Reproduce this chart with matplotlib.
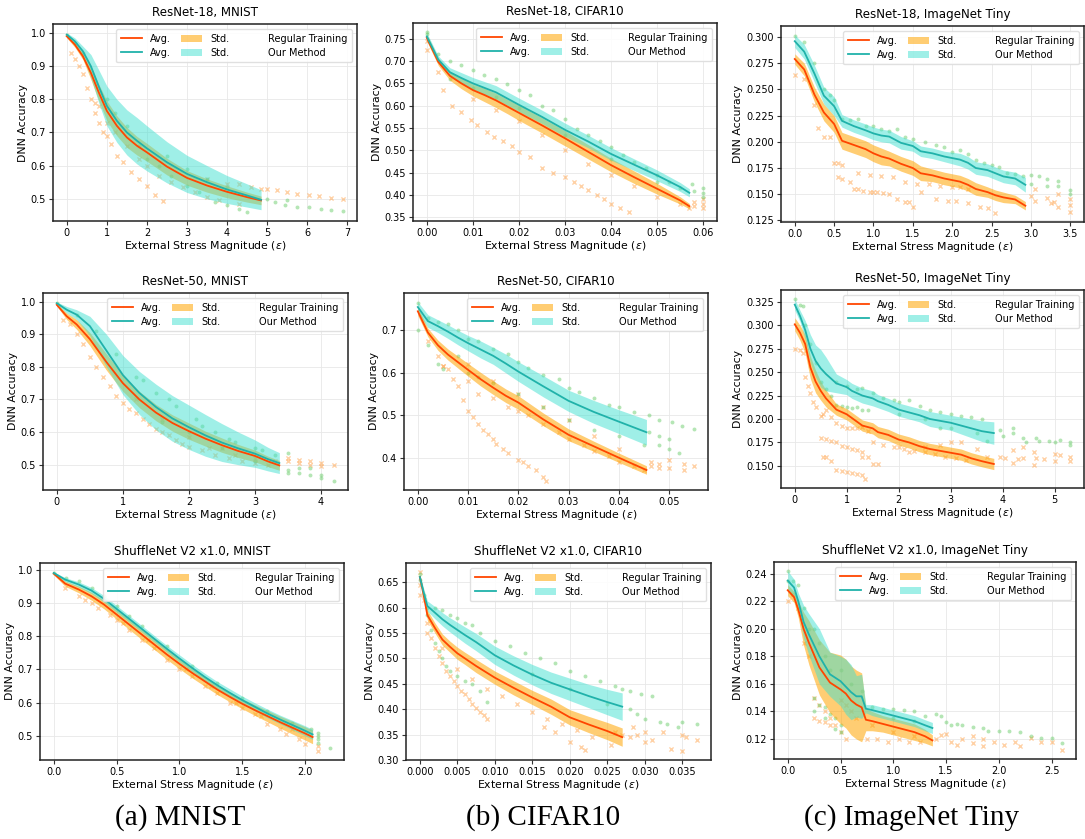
import matplotlib
matplotlib.use("Agg")
import matplotlib.pyplot as plt
import matplotlib.patches as patches
from matplotlib.lines import Line2D
import numpy as np

# ---------------- data ----------------
# ResNet-18, MNIST
r18_mnist_x = [0, 0.2, 0.4, 0.6, 0.8, 1.0, 1.25, 1.5, 1.75, 2.0, 2.5, 3.0, 3.5, 4.0, 4.5, 4.85]
r18_mnist_reg = [0.99, 0.965, 0.93, 0.88, 0.82, 0.765, 0.72, 0.685, 0.66, 0.64, 0.597, 0.563, 0.54, 0.521, 0.505, 0.495]
r18_mnist_reg_std = [0.005, 0.008, 0.01, 0.02, 0.025, 0.03, 0.03, 0.03, 0.028, 0.027, 0.025, 0.022, 0.02, 0.018, 0.015, 0.013]
r18_mnist_our = [0.995, 0.975, 0.945, 0.9, 0.838, 0.78, 0.735, 0.7, 0.675, 0.652, 0.61, 0.575, 0.55, 0.528, 0.51, 0.497]
r18_mnist_our_std = [0.005, 0.01, 0.015, 0.035, 0.05, 0.06, 0.065, 0.068, 0.07, 0.068, 0.062, 0.056, 0.05, 0.042, 0.035, 0.03]
r18_mnist_reg_pts = [(0.1, 0.94), (0.2, 0.92), (0.3, 0.9), (0.4, 0.875), (0.5, 0.835), (0.6, 0.8), (0.7, 0.76),
                     (0.8, 0.73), (0.9, 0.7), (1.0, 0.69), (1.1, 0.665), (1.25, 0.63), (1.4, 0.61), (1.6, 0.58),
                     (1.8, 0.56), (2.0, 0.54), (2.2, 0.51), (2.4, 0.493), (0.7, 0.79), (0.8, 0.78), (1.0, 0.73),
                     (1.2, 0.7), (1.5, 0.66), (1.8, 0.62), (2.0, 0.6), (2.3, 0.57), (2.6, 0.55), (2.9, 0.535),
                     (3.2, 0.52), (3.5, 0.505), (3.8, 0.495), (4.3, 0.485), (3.5, 0.56), (4.0, 0.545), (4.3, 0.545),
                     (4.6, 0.535), (4.85, 0.53), (5.0, 0.53), (5.25, 0.525), (5.5, 0.52), (5.75, 0.515),
                     (6.05, 0.51), (6.3, 0.508), (6.6, 0.503), (6.9, 0.5)]
r18_mnist_our_pts = [(0.0, 0.995), (0.2, 0.97), (0.4, 0.94), (1.0, 0.8), (1.2, 0.76), (1.5, 0.72), (1.8, 0.66),
                     (2.0, 0.62), (2.3, 0.6), (2.6, 0.57), (3.0, 0.54), (3.3, 0.52), (3.7, 0.49), (4.0, 0.48),
                     (4.3, 0.47), (4.5, 0.46), (2.5, 0.63), (3.0, 0.59), (3.5, 0.56), (4.0, 0.535), (5.0, 0.5),
                     (5.2, 0.49), (5.45, 0.48), (5.5, 0.495), (5.75, 0.475), (6.05, 0.475), (6.35, 0.47),
                     (6.6, 0.467), (6.9, 0.463)]

# ResNet-18, CIFAR10
r18_cifar_x = [0, 0.0025, 0.005, 0.0075, 0.01, 0.0125, 0.015, 0.0175, 0.02, 0.025, 0.03, 0.035, 0.04, 0.045, 0.05, 0.055, 0.057]
r18_cifar_reg = [0.752, 0.698, 0.667, 0.65, 0.635, 0.624, 0.612, 0.598, 0.584, 0.556, 0.527, 0.497, 0.467, 0.44, 0.414, 0.388, 0.375]
r18_cifar_reg_std = [0.008, 0.008, 0.01, 0.012, 0.013, 0.015, 0.016, 0.016, 0.017, 0.017, 0.017, 0.016, 0.015, 0.014, 0.012, 0.008, 0.006]
r18_cifar_our = [0.755, 0.703, 0.675, 0.662, 0.65, 0.64, 0.63, 0.616, 0.602, 0.575, 0.546, 0.52, 0.492, 0.468, 0.444, 0.418, 0.405]
r18_cifar_our_std = [0.008, 0.008, 0.01, 0.012, 0.013, 0.014, 0.015, 0.015, 0.015, 0.015, 0.015, 0.014, 0.014, 0.013, 0.012, 0.01, 0.009]
r18_cifar_reg_pts = [(0.0, 0.725), (0.0, 0.745), (0.0025, 0.675), (0.0035, 0.635), (0.0055, 0.6), (0.0075, 0.585),
                     (0.0095, 0.567), (0.011, 0.556), (0.013, 0.54), (0.0145, 0.53), (0.0165, 0.52), (0.0185, 0.51),
                     (0.02, 0.497), (0.0225, 0.485), (0.025, 0.46), (0.0275, 0.45), (0.03, 0.44), (0.032, 0.43),
                     (0.0335, 0.42), (0.035, 0.412), (0.037, 0.4), (0.0385, 0.39), (0.04, 0.38), (0.042, 0.372),
                     (0.044, 0.362), (0.01, 0.615), (0.015, 0.59), (0.02, 0.565), (0.025, 0.535), (0.03, 0.5),
                     (0.035, 0.47), (0.04, 0.445), (0.045, 0.42), (0.05, 0.395), (0.055, 0.38), (0.057, 0.37),
                     (0.058, 0.375), (0.058, 0.385), (0.06, 0.372), (0.06, 0.38), (0.06, 0.39)]
r18_cifar_our_pts = [(0.0, 0.765), (0.0, 0.76), (0.0025, 0.715), (0.005, 0.7), (0.0075, 0.69), (0.01, 0.68),
                     (0.0125, 0.668), (0.015, 0.66), (0.0175, 0.648), (0.02, 0.635), (0.0225, 0.623), (0.025, 0.6),
                     (0.0275, 0.59), (0.03, 0.57), (0.0325, 0.548), (0.035, 0.535), (0.0375, 0.52), (0.04, 0.508),
                     (0.0425, 0.49), (0.045, 0.475), (0.0475, 0.46), (0.05, 0.445), (0.0525, 0.43), (0.055, 0.415),
                     (0.0575, 0.425), (0.058, 0.41), (0.06, 0.415), (0.06, 0.405), (0.06, 0.395), (0.005, 0.66),
                     (0.01, 0.64), (0.015, 0.62), (0.02, 0.595), (0.03, 0.535), (0.04, 0.48), (0.05, 0.43)]

# ResNet-18, ImageNet Tiny
r18_tiny_x = [0, 0.12, 0.25, 0.37, 0.5, 0.6, 0.75, 0.9, 1.0, 1.1, 1.2, 1.35, 1.5, 1.6, 1.75, 1.9, 2.1, 2.2, 2.3, 2.45, 2.55, 2.65, 2.8, 2.93]
r18_tiny_reg = [0.279, 0.269, 0.245, 0.228, 0.217, 0.201, 0.197, 0.193, 0.189, 0.186, 0.184, 0.179, 0.175, 0.17,
                0.168, 0.165, 0.162, 0.159, 0.155, 0.152, 0.149, 0.147, 0.145, 0.139]
r18_tiny_reg_std = [0.005, 0.006, 0.007, 0.008, 0.008, 0.008, 0.008, 0.008, 0.008, 0.008, 0.007, 0.007, 0.007,
                    0.007, 0.006, 0.006, 0.006, 0.006, 0.006, 0.005, 0.005, 0.005, 0.004, 0.004]
r18_tiny_our = [0.296, 0.286, 0.265, 0.244, 0.234, 0.22, 0.215, 0.211, 0.208, 0.206, 0.205, 0.199, 0.196, 0.191,
                0.189, 0.186, 0.183, 0.18, 0.175, 0.173, 0.17, 0.167, 0.165, 0.159]
r18_tiny_our_std = [0.006, 0.007, 0.008, 0.008, 0.009, 0.006, 0.006, 0.006, 0.006, 0.006, 0.006, 0.006, 0.005,
                    0.005, 0.005, 0.005, 0.006, 0.006, 0.006, 0.006, 0.006, 0.006, 0.006, 0.007]
r18_tiny_reg_pts = [(0, 0.264), (0.12, 0.26), (0.25, 0.235), (0.3, 0.213), (0.37, 0.205), (0.45, 0.205), (0.5, 0.18),
                    (0.55, 0.18), (0.6, 0.178), (0.55, 0.166), (0.6, 0.165), (0.7, 0.162), (0.75, 0.155), (0.8, 0.155),
                    (0.87, 0.153), (0.95, 0.152), (1.0, 0.152), (1.05, 0.152), (1.12, 0.151), (1.2, 0.15), (1.3, 0.145),
                    (1.4, 0.143), (1.45, 0.143), (1.5, 0.138), (0.8, 0.17), (0.95, 0.168), (1.1, 0.167), (1.25, 0.166),
                    (1.4, 0.162), (1.55, 0.16), (1.7, 0.16), (1.85, 0.158), (2.0, 0.157), (2.1, 0.157), (2.2, 0.155),
                    (1.6, 0.152), (1.8, 0.145), (1.95, 0.144), (2.05, 0.144), (2.2, 0.142), (2.35, 0.138),
                    (2.45, 0.137), (2.55, 0.132), (3.0, 0.148), (3.05, 0.155), (3.05, 0.144), (3.2, 0.146),
                    (3.25, 0.142), (3.35, 0.15), (3.35, 0.138), (3.5, 0.145), (3.5, 0.14), (3.5, 0.133), (3.3, 0.143)]
r18_tiny_our_pts = [(0, 0.301), (0.12, 0.295), (0.25, 0.275), (0.37, 0.25), (0.45, 0.245), (0.5, 0.24), (0.6, 0.222),
                    (0.7, 0.221), (0.8, 0.222), (0.9, 0.215), (1.0, 0.215), (1.1, 0.212), (1.2, 0.21), (1.3, 0.212),
                    (1.4, 0.205), (1.5, 0.203), (1.65, 0.2), (1.8, 0.197), (1.9, 0.195), (2.0, 0.19), (2.1, 0.192),
                    (2.2, 0.188), (2.3, 0.183), (2.4, 0.18), (2.5, 0.178), (2.6, 0.176), (2.7, 0.17), (2.8, 0.169),
                    (2.9, 0.167), (3.0, 0.168), (3.1, 0.167), (3.2, 0.165), (3.35, 0.163), (3.35, 0.158),
                    (3.5, 0.154), (3.5, 0.15), (3.0, 0.16), (3.2, 0.158)]

# ResNet-50, MNIST
r50_mnist_x = [0, 0.15, 0.3, 0.5, 0.75, 1.0, 1.25, 1.5, 1.75, 2.0, 2.25, 2.5, 2.75, 3.0, 3.2, 3.37]
r50_mnist_reg = [0.99, 0.955, 0.93, 0.885, 0.815, 0.75, 0.7, 0.66, 0.628, 0.603, 0.58, 0.56, 0.542, 0.527, 0.51, 0.498]
r50_mnist_reg_std = [0.004, 0.01, 0.015, 0.02, 0.025, 0.025, 0.025, 0.025, 0.025, 0.025, 0.023, 0.022, 0.02, 0.018, 0.016, 0.015]
r50_mnist_our = [0.995, 0.975, 0.96, 0.925, 0.85, 0.775, 0.72, 0.677, 0.642, 0.615, 0.59, 0.568, 0.55, 0.534, 0.517, 0.505]
r50_mnist_our_std = [0.004, 0.01, 0.015, 0.03, 0.05, 0.06, 0.066, 0.07, 0.07, 0.068, 0.064, 0.058, 0.05, 0.042, 0.036, 0.032]
r50_mnist_reg_pts = [(0.1, 0.945), (0.2, 0.93), (0.3, 0.9), (0.4, 0.87), (0.5, 0.83), (0.6, 0.8), (0.7, 0.77),
                     (0.8, 0.74), (0.9, 0.71), (1.0, 0.69), (1.1, 0.67), (1.2, 0.66), (1.3, 0.64), (1.4, 0.625),
                     (1.5, 0.61), (1.6, 0.6), (1.7, 0.59), (1.8, 0.575), (1.9, 0.565), (2.0, 0.555), (2.2, 0.545),
                     (2.4, 0.53), (2.6, 0.52), (2.8, 0.51), (3.0, 0.505), (3.2, 0.5), (2.3, 0.55), (2.7, 0.53),
                     (1.2, 0.7), (1.6, 0.64), (2.0, 0.585), (2.5, 0.55), (3.0, 0.52), (3.3, 0.51), (3.5, 0.52),
                     (3.5, 0.51), (3.67, 0.515), (3.67, 0.505), (3.84, 0.51), (3.84, 0.5), (4.0, 0.505),
                     (4.0, 0.495), (4.2, 0.5)]
r50_mnist_our_pts = [(0, 0.995), (0.3, 0.96), (0.6, 0.91), (0.9, 0.84), (1.2, 0.77), (1.5, 0.72), (1.8, 0.68),
                     (2.1, 0.64), (2.4, 0.6), (2.7, 0.57), (3.0, 0.55), (3.3, 0.53), (1.3, 0.76), (1.7, 0.7),
                     (2.2, 0.62), (2.6, 0.58), (3.1, 0.545), (1.6, 0.63), (2.0, 0.6), (2.5, 0.55), (3.0, 0.51),
                     (3.5, 0.535), (3.5, 0.485), (3.5, 0.475), (3.67, 0.49), (3.67, 0.475), (3.84, 0.49),
                     (3.84, 0.47), (4.0, 0.47), (4.0, 0.46), (4.2, 0.45)]

# ResNet-50, CIFAR10
r50_cifar_x = [0, 0.002, 0.004, 0.006, 0.008, 0.01, 0.0125, 0.015, 0.0175, 0.02, 0.025, 0.03, 0.035, 0.04, 0.0455]
r50_cifar_reg = [0.745, 0.695, 0.665, 0.643, 0.625, 0.607, 0.585, 0.565, 0.546, 0.53, 0.49, 0.454, 0.427, 0.4, 0.371]
r50_cifar_reg_std = [0.01, 0.01, 0.012, 0.013, 0.014, 0.015, 0.016, 0.016, 0.016, 0.016, 0.015, 0.014, 0.012, 0.011, 0.01]
r50_cifar_our = [0.755, 0.722, 0.71, 0.697, 0.683, 0.67, 0.655, 0.64, 0.622, 0.603, 0.568, 0.534, 0.508, 0.485, 0.46]
r50_cifar_our_std = [0.012, 0.015, 0.015, 0.016, 0.017, 0.018, 0.02, 0.02, 0.022, 0.023, 0.025, 0.025, 0.027, 0.028, 0.03]
r50_cifar_reg_pts = [(0.002, 0.675), (0.004, 0.64), (0.005, 0.617), (0.006, 0.61), (0.007, 0.585), (0.008, 0.57),
                     (0.009, 0.535), (0.01, 0.51), (0.011, 0.495), (0.012, 0.48), (0.013, 0.465), (0.014, 0.455),
                     (0.015, 0.445), (0.0155, 0.432), (0.017, 0.42), (0.018, 0.41), (0.02, 0.395), (0.021, 0.39),
                     (0.022, 0.38), (0.0235, 0.37), (0.025, 0.355), (0.0255, 0.345), (0.005, 0.615), (0.01, 0.58),
                     (0.012, 0.55), (0.015, 0.54), (0.018, 0.52), (0.02, 0.51), (0.022, 0.5), (0.025, 0.48),
                     (0.028, 0.46), (0.03, 0.445), (0.033, 0.43), (0.035, 0.415), (0.038, 0.405), (0.04, 0.39),
                     (0.043, 0.38), (0.045, 0.37), (0.01, 0.62), (0.015, 0.58), (0.02, 0.55), (0.025, 0.52),
                     (0.03, 0.49), (0.035, 0.45), (0.04, 0.42), (0.0465, 0.39), (0.0465, 0.38), (0.048, 0.385),
                     (0.048, 0.375), (0.05, 0.395), (0.05, 0.375), (0.053, 0.385), (0.053, 0.37), (0.055, 0.38)]
r50_cifar_our_pts = [(0, 0.765), (0, 0.7), (0.002, 0.73), (0.002, 0.665), (0.004, 0.72), (0.004, 0.62), (0.005, 0.61),
                     (0.006, 0.715), (0.008, 0.7), (0.01, 0.68), (0.012, 0.675), (0.015, 0.655), (0.018, 0.645),
                     (0.02, 0.625), (0.022, 0.612), (0.025, 0.595), (0.028, 0.585), (0.03, 0.565), (0.032, 0.555),
                     (0.035, 0.54), (0.038, 0.525), (0.04, 0.52), (0.043, 0.508), (0.008, 0.64), (0.01, 0.6),
                     (0.012, 0.59), (0.015, 0.575), (0.02, 0.55), (0.025, 0.52), (0.03, 0.49), (0.035, 0.465),
                     (0.04, 0.45), (0.045, 0.43), (0.046, 0.5), (0.046, 0.46), (0.048, 0.49), (0.048, 0.45),
                     (0.048, 0.43), (0.0505, 0.485), (0.05, 0.445), (0.05, 0.42), (0.0525, 0.475), (0.052, 0.41),
                     (0.055, 0.468)]

# ResNet-50, ImageNet Tiny
r50_tiny_x = [0, 0.1, 0.2, 0.3, 0.4, 0.5, 0.6, 0.8, 1.0, 1.1, 1.3, 1.5, 1.6, 1.8, 2.0, 2.2, 2.4, 2.6, 2.8, 3.0, 3.2, 3.4, 3.6, 3.83]
r50_tiny_reg = [0.301, 0.292, 0.28, 0.255, 0.24, 0.23, 0.222, 0.21, 0.205, 0.201, 0.193, 0.19, 0.186, 0.183, 0.178,
                0.175, 0.171, 0.168, 0.166, 0.164, 0.162, 0.158, 0.155, 0.152]
r50_tiny_reg_std = [0.007, 0.008, 0.01, 0.012, 0.012, 0.01, 0.009, 0.006, 0.006, 0.006, 0.006, 0.006, 0.006, 0.006,
                    0.006, 0.006, 0.006, 0.006, 0.006, 0.006, 0.006, 0.006, 0.006, 0.006]
r50_tiny_our = [0.322, 0.31, 0.295, 0.275, 0.262, 0.254, 0.248, 0.238, 0.234, 0.23, 0.225, 0.222, 0.219, 0.215, 0.21,
                0.207, 0.204, 0.2, 0.198, 0.196, 0.193, 0.19, 0.187, 0.185]
r50_tiny_our_std = [0.006, 0.006, 0.01, 0.015, 0.017, 0.02, 0.018, 0.01, 0.008, 0.008, 0.008, 0.008, 0.007, 0.007,
                    0.007, 0.007, 0.007, 0.008, 0.008, 0.008, 0.009, 0.01, 0.011, 0.012]
r50_tiny_reg_pts = [(0, 0.275), (0.1, 0.274), (0.15, 0.27), (0.2, 0.245), (0.25, 0.235), (0.3, 0.228), (0.35, 0.218),
                    (0.4, 0.213), (0.5, 0.203), (0.55, 0.205), (0.6, 0.21), (0.7, 0.202), (0.8, 0.196), (0.9, 0.193),
                    (1.0, 0.19), (1.1, 0.19), (1.2, 0.19), (1.3, 0.192), (1.4, 0.187), (0.5, 0.18), (0.6, 0.179),
                    (0.7, 0.177), (0.8, 0.176), (0.9, 0.171), (1.0, 0.17), (1.1, 0.168), (1.2, 0.167), (1.3, 0.165),
                    (0.55, 0.16), (0.6, 0.159), (0.7, 0.155), (0.8, 0.146), (0.9, 0.145), (1.0, 0.143), (1.1, 0.142),
                    (1.2, 0.141), (1.3, 0.14), (1.35, 0.136), (1.3, 0.16), (1.4, 0.16), (1.5, 0.152), (1.6, 0.152),
                    (1.5, 0.175), (1.7, 0.172), (1.9, 0.17), (2.1, 0.168), (2.3, 0.166), (2.5, 0.165), (2.7, 0.163),
                    (2.9, 0.16), (3.1, 0.158), (3.3, 0.156), (2.0, 0.17), (2.2, 0.165), (2.5, 0.17), (2.8, 0.172),
                    (3.0, 0.175), (3.2, 0.176), (3.5, 0.168), (3.7, 0.16), (3.95, 0.16), (4.05, 0.158), (4.2, 0.153),
                    (4.2, 0.167), (4.3, 0.157), (4.4, 0.17), (4.4, 0.158), (4.6, 0.165), (4.6, 0.151), (4.65, 0.158),
                    (4.8, 0.157), (5.0, 0.163), (5.0, 0.155), (5.1, 0.162), (5.3, 0.16), (5.3, 0.155)]
r50_tiny_our_pts = [(0, 0.328), (0.1, 0.322), (0.15, 0.32), (0.2, 0.3), (0.3, 0.28), (0.4, 0.26), (0.5, 0.24),
                    (0.6, 0.232), (0.7, 0.225), (0.8, 0.215), (0.9, 0.214), (1.0, 0.213), (1.1, 0.212), (1.2, 0.213),
                    (1.3, 0.21), (1.4, 0.21), (0.8, 0.24), (1.0, 0.235), (1.2, 0.232), (1.3, 0.233), (1.5, 0.228),
                    (1.7, 0.222), (1.9, 0.22), (2.0, 0.218), (2.2, 0.22), (2.4, 0.214), (2.6, 0.21), (2.8, 0.208),
                    (3.0, 0.205), (3.2, 0.203), (3.4, 0.202), (3.6, 0.2), (2.0, 0.205), (2.5, 0.2), (3.0, 0.19),
                    (3.5, 0.185), (3.7, 0.177), (2.8, 0.19), (3.95, 0.188), (4.0, 0.182), (4.2, 0.19), (4.2, 0.185),
                    (4.4, 0.18), (4.45, 0.176), (4.65, 0.18), (4.7, 0.177), (4.9, 0.177), (5.0, 0.175), (5.1, 0.178),
                    (5.3, 0.176), (5.3, 0.172)]

# ShuffleNet V2 x1.0, MNIST
sn_mnist_x = [0, 0.09, 0.2, 0.3, 0.4, 0.5, 0.6, 0.7, 0.8, 0.9, 1.0, 1.1, 1.2, 1.3, 1.4, 1.5, 1.6, 1.7, 1.8, 1.9, 2.0, 2.06]
sn_mnist_reg = [0.988, 0.958, 0.94, 0.92, 0.895, 0.865, 0.835, 0.805, 0.775, 0.745, 0.717, 0.69, 0.665, 0.64, 0.618,
                0.597, 0.578, 0.56, 0.542, 0.525, 0.508, 0.497]
sn_mnist_reg_std = [0.004, 0.008, 0.01, 0.012, 0.013, 0.014, 0.015, 0.015, 0.015, 0.015, 0.015, 0.015, 0.015, 0.015,
                    0.015, 0.015, 0.016, 0.017, 0.018, 0.019, 0.02, 0.02]
sn_mnist_our = [0.99, 0.97, 0.955, 0.937, 0.912, 0.882, 0.852, 0.822, 0.792, 0.762, 0.733, 0.705, 0.678, 0.653, 0.63,
                0.608, 0.588, 0.568, 0.55, 0.533, 0.516, 0.505]
sn_mnist_our_std = [0.003, 0.006, 0.008, 0.009, 0.01, 0.01, 0.01, 0.01, 0.01, 0.01, 0.011, 0.011, 0.011, 0.011, 0.012,
                    0.012, 0.012, 0.013, 0.013, 0.014, 0.015, 0.015]
sn_mnist_reg_pts = [(0.09, 0.945), (0.2, 0.92), (0.3, 0.9), (0.35, 0.885), (0.45, 0.865), (0.5, 0.85), (0.6, 0.82),
                    (0.7, 0.79), (0.8, 0.765), (0.9, 0.73), (1.0, 0.7), (1.1, 0.68), (1.2, 0.65), (1.3, 0.63),
                    (1.4, 0.6), (1.5, 0.585), (1.6, 0.565), (1.7, 0.535), (1.8, 0.52), (1.85, 0.505), (1.95, 0.49),
                    (2.0, 0.475), (2.1, 0.47), (2.1, 0.455), (0.25, 0.91), (0.55, 0.84), (0.75, 0.79), (1.05, 0.7),
                    (1.25, 0.65), (1.45, 0.6), (1.65, 0.56), (1.9, 0.52)]
sn_mnist_our_pts = [(0, 0.99), (0.1, 0.975), (0.2, 0.965), (0.3, 0.945), (0.4, 0.92), (0.5, 0.89), (0.6, 0.86),
                    (0.7, 0.83), (0.9, 0.77), (1.1, 0.71), (1.3, 0.66), (1.5, 0.615), (1.7, 0.575), (1.9, 0.54),
                    (2.05, 0.52), (2.1, 0.51), (2.1, 0.5), (2.1, 0.49), (2.1, 0.48), (2.2, 0.465)]

# ShuffleNet V2 x1.0, CIFAR10
sn_cifar_x = [0, 0.0005, 0.001, 0.002, 0.003, 0.004, 0.005, 0.006, 0.0075, 0.01, 0.0125, 0.015, 0.0175, 0.02, 0.0225, 0.025, 0.027]
sn_cifar_reg = [0.66, 0.625, 0.585, 0.56, 0.537, 0.523, 0.51, 0.5, 0.485, 0.462, 0.442, 0.423, 0.405, 0.384, 0.37, 0.357, 0.345]
sn_cifar_reg_std = [0.005, 0.008, 0.01, 0.01, 0.011, 0.011, 0.012, 0.012, 0.013, 0.013, 0.014, 0.014, 0.015, 0.015, 0.016, 0.017, 0.018]
sn_cifar_our = [0.66, 0.63, 0.603, 0.59, 0.577, 0.566, 0.556, 0.546, 0.532, 0.506, 0.486, 0.468, 0.452, 0.439, 0.426, 0.414, 0.405]
sn_cifar_our_std = [0.005, 0.008, 0.01, 0.012, 0.013, 0.014, 0.015, 0.016, 0.017, 0.018, 0.019, 0.02, 0.021, 0.022, 0.023, 0.025, 0.027]
sn_cifar_reg_pts = [(0, 0.67), (0, 0.645), (0, 0.625), (0.0005, 0.615), (0.001, 0.57), (0.001, 0.55), (0.0015, 0.54),
                    (0.002, 0.52), (0.0025, 0.505), (0.003, 0.49), (0.0035, 0.475), (0.004, 0.465), (0.0045, 0.455),
                    (0.005, 0.445), (0.0055, 0.435), (0.006, 0.43), (0.0065, 0.42), (0.007, 0.41), (0.0075, 0.402),
                    (0.008, 0.395), (0.0085, 0.388), (0.009, 0.38), (0.003, 0.52), (0.005, 0.48), (0.007, 0.46),
                    (0.009, 0.44), (0.011, 0.425), (0.013, 0.41), (0.015, 0.395), (0.017, 0.38), (0.019, 0.37),
                    (0.021, 0.36), (0.023, 0.345), (0.0255, 0.33), (0.028, 0.345), (0.029, 0.35), (0.03, 0.335),
                    (0.031, 0.34), (0.0325, 0.355), (0.0335, 0.322), (0.035, 0.318), (0.035, 0.35), (0.0355, 0.345),
                    (0.037, 0.34), (0.0165, 0.365), (0.018, 0.355), (0.02, 0.335), (0.0215, 0.325), (0.022, 0.32),
                    (0.026, 0.355), (0.027, 0.35), (0.0285, 0.365), (0.03, 0.355)]
sn_cifar_our_pts = [(0, 0.665), (0, 0.655), (0.0005, 0.625), (0.001, 0.585), (0.001, 0.6), (0.0015, 0.555),
                    (0.002, 0.53), (0.0025, 0.515), (0.003, 0.5), (0.0035, 0.485), (0.004, 0.475), (0.005, 0.465),
                    (0.006, 0.455), (0.007, 0.45), (0.008, 0.435), (0.009, 0.415), (0.002, 0.6), (0.003, 0.595),
                    (0.004, 0.585), (0.005, 0.58), (0.006, 0.57), (0.007, 0.565), (0.008, 0.55), (0.01, 0.535),
                    (0.012, 0.525), (0.014, 0.51), (0.016, 0.5), (0.018, 0.49), (0.02, 0.475), (0.022, 0.465),
                    (0.024, 0.455), (0.026, 0.445), (0.027, 0.44), (0.028, 0.435), (0.0295, 0.43), (0.031, 0.425),
                    (0.028, 0.4), (0.029, 0.39), (0.03, 0.38), (0.032, 0.375), (0.033, 0.37), (0.0345, 0.365),
                    (0.035, 0.375), (0.037, 0.37), (0.015, 0.47), (0.02, 0.44), (0.025, 0.41)]

# ShuffleNet V2 x1.0, ImageNet Tiny
sn_tiny_x = [0, 0.06, 0.1, 0.15, 0.2, 0.3, 0.4, 0.5, 0.55, 0.6, 0.65, 0.7, 0.74, 0.8, 0.9, 1.0, 1.1, 1.2, 1.3, 1.37]
sn_tiny_reg = [0.228, 0.223, 0.214, 0.2, 0.19, 0.172, 0.161, 0.156, 0.153, 0.148, 0.145, 0.143, 0.134, 0.133, 0.131,
               0.129, 0.127, 0.125, 0.122, 0.119]
sn_tiny_reg_std = [0.004, 0.004, 0.006, 0.012, 0.016, 0.02, 0.022, 0.025, 0.025, 0.025, 0.025, 0.025, 0.008, 0.007,
                   0.006, 0.006, 0.006, 0.006, 0.005, 0.004]
sn_tiny_our = [0.235, 0.23, 0.22, 0.205, 0.196, 0.18, 0.167, 0.162, 0.158, 0.154, 0.151, 0.151, 0.142, 0.141, 0.139,
               0.137, 0.135, 0.133, 0.13, 0.128]
sn_tiny_our_std = [0.007, 0.006, 0.006, 0.012, 0.015, 0.02, 0.016, 0.018, 0.02, 0.02, 0.015, 0.016, 0.003, 0.004,
                   0.004, 0.004, 0.004, 0.004, 0.004, 0.004]
sn_tiny_reg_pts = [(0, 0.22), (0.05, 0.225), (0.1, 0.215), (0.15, 0.19), (0.2, 0.18), (0.25, 0.15), (0.3, 0.145),
                   (0.35, 0.14), (0.4, 0.135), (0.45, 0.13), (0.5, 0.125), (0.55, 0.12), (0.25, 0.135), (0.3, 0.133),
                   (0.35, 0.132), (0.4, 0.13), (0.5, 0.148), (0.55, 0.145), (0.6, 0.14), (0.65, 0.135), (0.75, 0.12),
                   (0.85, 0.12), (0.95, 0.118), (1.05, 0.12), (1.15, 0.118), (1.25, 0.118), (0.8, 0.13), (1.0, 0.125),
                   (1.2, 0.122), (1.4, 0.12), (1.45, 0.123), (1.5, 0.124), (1.55, 0.118), (1.6, 0.116), (1.65, 0.12),
                   (1.75, 0.122), (1.75, 0.117), (1.85, 0.12), (1.85, 0.115), (1.95, 0.118), (2.05, 0.116),
                   (2.15, 0.118), (2.2, 0.115), (2.3, 0.121), (2.4, 0.118), (2.5, 0.118), (2.6, 0.112)]
sn_tiny_our_pts = [(0, 0.242), (0, 0.235), (0.05, 0.235), (0.1, 0.232), (0.15, 0.215), (0.2, 0.2), (0.25, 0.2),
                   (0.3, 0.19), (0.35, 0.18), (0.4, 0.17), (0.25, 0.15), (0.3, 0.145), (0.35, 0.143), (0.4, 0.138),
                   (0.45, 0.135), (0.5, 0.13), (0.25, 0.14), (0.35, 0.135), (0.45, 0.127), (0.5, 0.125), (0.5, 0.17),
                   (0.6, 0.16), (0.7, 0.155), (0.8, 0.143), (0.9, 0.142), (1.0, 0.142), (1.1, 0.141), (1.2, 0.14),
                   (1.3, 0.137), (1.4, 0.138), (1.45, 0.137), (1.5, 0.132), (1.55, 0.13), (1.6, 0.131), (1.65, 0.13),
                   (1.75, 0.129), (1.85, 0.128), (1.9, 0.126), (2.0, 0.126), (2.1, 0.126), (2.2, 0.125),
                   (2.3, 0.122), (2.4, 0.121), (2.5, 0.121), (2.6, 0.117), (1.0, 0.135), (1.2, 0.133)]

titles = ["ResNet-18, MNIST", "ResNet-18, CIFAR10", "ResNet-18, ImageNet Tiny",
          "ResNet-50, MNIST", "ResNet-50, CIFAR10", "ResNet-50, ImageNet Tiny",
          "ShuffleNet V2 x1.0, MNIST", "ShuffleNet V2 x1.0, CIFAR10", "ShuffleNet V2 x1.0, ImageNet Tiny"]
captions = ["(a) MNIST", "(b) CIFAR10", "(c) ImageNet Tiny"]

xticks = [np.arange(0, 7.5, 1), np.arange(0, 0.065, 0.01), np.arange(0, 3.75, 0.5),
          np.arange(0, 4.5, 1), np.arange(0, 0.055, 0.01), np.arange(0, 5.5, 1),
          np.arange(0, 2.25, 0.5), np.arange(0, 0.0375, 0.005), np.arange(0, 2.75, 0.5)]
yticks = [np.arange(0.5, 1.05, 0.1), np.arange(0.35, 0.76, 0.05), np.arange(0.125, 0.31, 0.025),
          np.arange(0.5, 1.05, 0.1), np.arange(0.4, 0.75, 0.1), np.arange(0.15, 0.33, 0.025),
          np.arange(0.5, 1.05, 0.1), np.arange(0.3, 0.67, 0.05), np.arange(0.12, 0.25, 0.02)]

# axes boxes in pixels: left, right, top, bottom
boxes = [(53, 357, 24, 221), (413, 717, 23, 221), (781, 1084, 26, 222),
         (43, 348, 293, 490), (404, 708, 293, 490), (781, 1084, 290, 488),
         (40, 344, 563, 760), (406, 711, 563, 760), (774, 1076, 562, 759)]

panels = [
    (r18_mnist_x, r18_mnist_reg, r18_mnist_reg_std, r18_mnist_our, r18_mnist_our_std, r18_mnist_reg_pts, r18_mnist_our_pts),
    (r18_cifar_x, r18_cifar_reg, r18_cifar_reg_std, r18_cifar_our, r18_cifar_our_std, r18_cifar_reg_pts, r18_cifar_our_pts),
    (r18_tiny_x, r18_tiny_reg, r18_tiny_reg_std, r18_tiny_our, r18_tiny_our_std, r18_tiny_reg_pts, r18_tiny_our_pts),
    (r50_mnist_x, r50_mnist_reg, r50_mnist_reg_std, r50_mnist_our, r50_mnist_our_std, r50_mnist_reg_pts, r50_mnist_our_pts),
    (r50_cifar_x, r50_cifar_reg, r50_cifar_reg_std, r50_cifar_our, r50_cifar_our_std, r50_cifar_reg_pts, r50_cifar_our_pts),
    (r50_tiny_x, r50_tiny_reg, r50_tiny_reg_std, r50_tiny_our, r50_tiny_our_std, r50_tiny_reg_pts, r50_tiny_our_pts),
    (sn_mnist_x, sn_mnist_reg, sn_mnist_reg_std, sn_mnist_our, sn_mnist_our_std, sn_mnist_reg_pts, sn_mnist_our_pts),
    (sn_cifar_x, sn_cifar_reg, sn_cifar_reg_std, sn_cifar_our, sn_cifar_our_std, sn_cifar_reg_pts, sn_cifar_our_pts),
    (sn_tiny_x, sn_tiny_reg, sn_tiny_reg_std, sn_tiny_our, sn_tiny_our_std, sn_tiny_reg_pts, sn_tiny_our_pts),
]

# ---------------- style ----------------
REG_LINE = "#FF4500"
OUR_LINE = "#20B2AA"
REG_BAND = "#FFA500"
OUR_BAND = "#40E0D0"
REG_PT = "#FFA54F"
OUR_PT = "#5CC85C"

plt.rcParams["font.family"] = "DejaVu Sans"
W, H = 1085, 839
fig = plt.figure(figsize=(W / 100, H / 100), dpi=100)


def draw_panel(ax, data, title, xt, yt):
    x, reg, reg_std, our, our_std, reg_pts, our_pts = data
    x = np.array(x)
    reg, reg_std = np.array(reg), np.array(reg_std)
    our, our_std = np.array(our), np.array(our_std)

    rp = np.array(reg_pts)
    op = np.array(our_pts)
    ax.scatter(rp[:, 0], rp[:, 1], marker="x", s=9, linewidths=1.0, color=REG_PT, alpha=0.5, zorder=2)
    ax.scatter(op[:, 0], op[:, 1], marker="o", s=8, linewidths=0, color=OUR_PT, alpha=0.45, zorder=2)

    ax.fill_between(x, reg - reg_std, reg + reg_std, color=REG_BAND, alpha=0.55, lw=0, zorder=3)
    ax.fill_between(x, our - our_std, our + our_std, color=OUR_BAND, alpha=0.5, lw=0, zorder=3)
    ax.plot(x, reg, color=REG_LINE, lw=1.3, zorder=4)
    ax.plot(x, our, color=OUR_LINE, lw=1.3, zorder=4)

    ax.set_xticks(xt)
    ax.set_yticks(yt)
    ax.grid(True, color="#e8e8e8", lw=0.6, zorder=0)
    ax.set_axisbelow(True)
    ax.tick_params(labelsize=7, length=3, width=0.8, pad=2, color="#333333")
    for s in ax.spines.values():
        s.set_color("#222222")
        s.set_linewidth(1.1)
    ax.set_title(title, fontsize=8.6, pad=6)
    ax.set_xlabel(r"External Stress Magnitude ($\varepsilon$)", fontsize=7.8, labelpad=1)
    ax.set_ylabel("DNN Accuracy", fontsize=7.8, labelpad=2)

    blank = Line2D([], [], color="none")
    handles = [Line2D([], [], color=REG_LINE, lw=1.3), Line2D([], [], color=OUR_LINE, lw=1.3),
               patches.Patch(facecolor=REG_BAND, alpha=0.55, lw=0),
               patches.Patch(facecolor=OUR_BAND, alpha=0.5, lw=0),
               blank, blank]
    labels = ["Avg.", "Avg.", "Std.", "Std.", "Regular Training", "Our Method"]
    ax.legend(handles, labels, ncol=3, loc="upper right", fontsize=7, columnspacing=1.0,
              handletextpad=0.8, handlelength=2.2, borderpad=0.5, labelspacing=0.4,
              framealpha=0.9, edgecolor="#dddddd", fancybox=True)


for i in range(9):
    l, r, t, b = boxes[i]
    ax = fig.add_axes([l / W, 1 - b / H, (r - l) / W, (b - t) / H])
    draw_panel(ax, panels[i], titles[i], xticks[i], yticks[i])

for cx, cap in zip([180, 543, 912], captions):
    fig.text(cx / W, 1 - 818 / H, cap, ha="center", va="center",
             family="Liberation Serif", fontsize=21)

fig.savefig("out.png", dpi=100)
